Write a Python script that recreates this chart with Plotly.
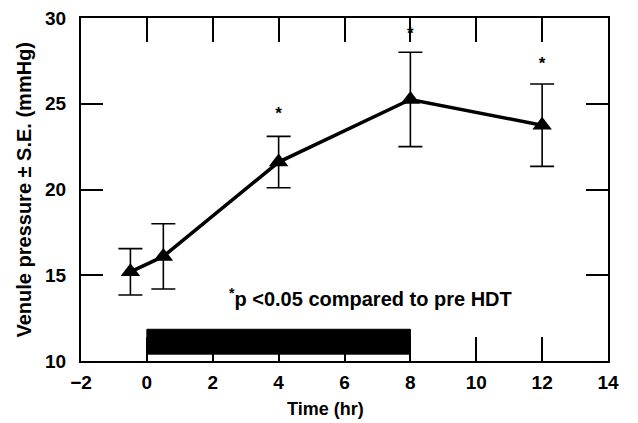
import plotly.graph_objects as go

time_hr = [-0.5, 0.5, 4, 8, 12]
pressure = [15.2, 16.1, 21.6, 25.25, 23.75]
se = [1.35, 1.9, 1.5, 2.75, 2.4]
star_x = [4, 8, 12]
star_y = [24.35, 29.0, 27.3]
hdt_start, hdt_end = 0, 8
hdt_bottom, hdt_top = 10.4, 11.85
x_ticks = [-2, 0, 2, 4, 6, 8, 10, 12, 14]
x_tick_labels = ["\u22122", "0", "2", "4", "6", "8", "10", "12", "14"]
y_ticks = [10, 15, 20, 25, 30]

font_fam = "Liberation Sans, Arial, sans-serif"

fig = go.Figure()
fig.add_trace(go.Scatter(
    x=time_hr, y=pressure, mode="lines+markers",
    line=dict(color="black", width=3.5),
    marker=dict(symbol="triangle-up", size=17, color="black"),
    error_y=dict(type="data", array=se, visible=True, color="black", thickness=1.6, width=12),
    showlegend=False, cliponaxis=False,
))
fig.add_trace(go.Scatter(
    x=star_x, y=star_y, mode="text", text=["*"] * len(star_x),
    textfont=dict(family=font_fam, size=17, color="black", weight="bold"),
    showlegend=False, cliponaxis=False,
))
fig.add_shape(type="rect", x0=hdt_start, x1=hdt_end, y0=hdt_bottom, y1=hdt_top,
              xref="x", yref="y", fillcolor="black", line=dict(color="black", width=1), layer="above")
fig.add_annotation(x=6.8, y=13.7, xref="x", yref="y", showarrow=False,
                   text="<b><sup>*</sup>p <0.05 compared to pre HDT</b>",
                   font=dict(family=font_fam, size=20, color="black"))
# axis titles
fig.add_annotation(x=0, y=0.5, xref="paper", yref="paper", xshift=-58,
                   xanchor="center", yanchor="middle",
                   showarrow=False, textangle=-90,
                   text="<b>Venule pressure \u00b1 S.E. (mmHg)</b>",
                   font=dict(family=font_fam, size=20, color="black"))
fig.add_annotation(x=0.5, y=0, xref="paper", yref="paper", xshift=-19, yshift=-48,
                   xanchor="center", yanchor="middle",
                   showarrow=False,
                   text="<b>Time (hr)</b>",
                   font=dict(family=font_fam, size=18, color="black"))

fig.update_layout(
    width=630, height=415,
    margin=dict(l=73, r=30, t=10, b=62),
    paper_bgcolor="white", plot_bgcolor="white",
    font=dict(family=font_fam, color="black"),
)
fig.update_xaxes(
    range=[-2, 14], tickvals=x_ticks, ticktext=x_tick_labels,
    ticks="inside", ticklen=24, tickwidth=1.6, tickcolor="black",
    showline=True, linecolor="black", linewidth=2, mirror="ticks",
    showgrid=False, zeroline=False, automargin=False, ticklabelstandoff=3,
    ticklabeloverflow="allow",
    tickfont=dict(family=font_fam, size=19, color="black", weight=700),
)
fig.update_yaxes(
    range=[10, 30], tickvals=y_ticks, ticktext=[str(t) for t in y_ticks],
    ticks="inside", ticklen=22, tickwidth=1.6, tickcolor="black",
    showline=True, linecolor="black", linewidth=2, mirror="ticks",
    showgrid=False, zeroline=False, automargin=False, ticklabelstandoff=9,
    ticklabeloverflow="allow",
    tickfont=dict(family=font_fam, size=19, color="black", weight=700),
)
fig.write_html("out.html")
